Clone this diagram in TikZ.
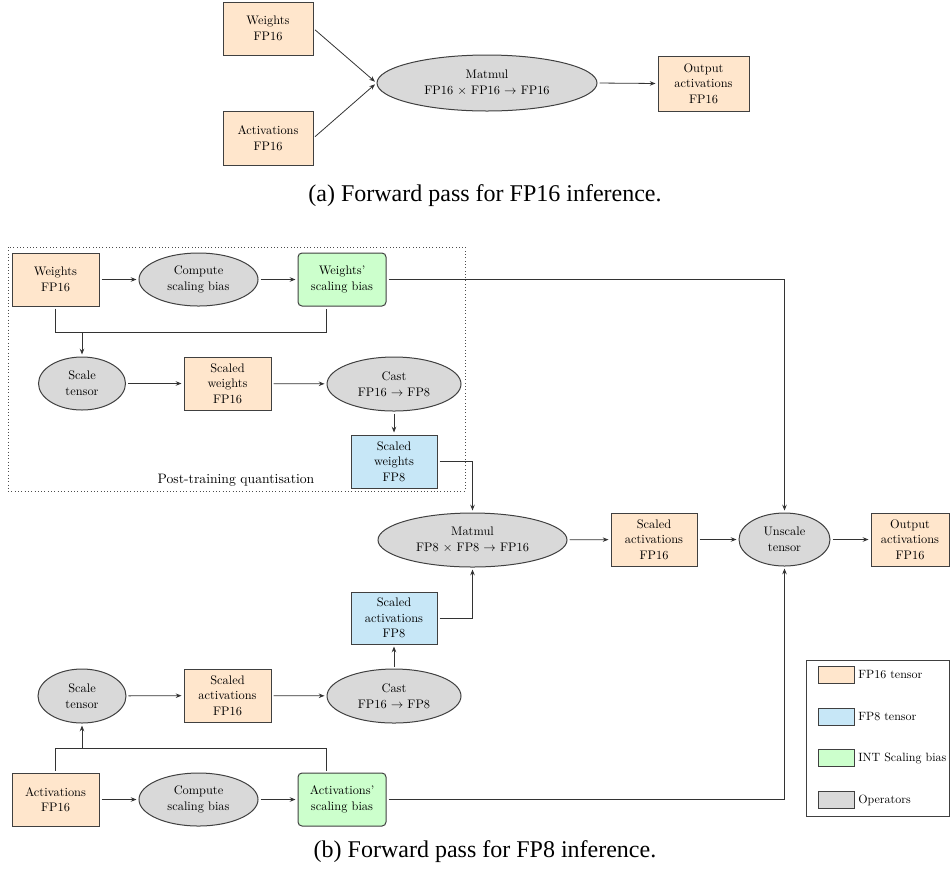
\documentclass[tikz,border=0pt]{standalone}
\usepackage{fontspec}
\newfontfamily\capfont{Liberation Serif}
\usetikzlibrary{shapes.geometric,arrows.meta,calc}
\definecolor{fporange}{HTML}{FFE6CC}
\definecolor{fpblue}{HTML}{C7E7F7}
\definecolor{fpgreen}{HTML}{CCFFCC}
\definecolor{opgray}{HTML}{D9D9D9}
\tikzset{
  nodefont/.style={font=\fontsize{9.9}{12.5}\selectfont},
  base/.style={nodefont, align=center, inner sep=0pt, draw=black!75, line width=0.8pt},
  sz/.style 2 args={minimum width=#1*0.8pt, minimum height=#2*0.8pt},
  obox/.style={base, rectangle, fill=fporange},
  bbox/.style={base, rectangle, fill=fpblue},
  gbox/.style={base, rectangle, rounded corners=3.2pt, fill=fpgreen},
  gyrect/.style={base, rectangle, fill=opgray},
  opell/.style={base, ellipse, fill=opgray},
  conn/.style={draw=black!80, line width=0.64pt, shorten <=1.6pt, shorten >=1.6pt},
  arr/.style={conn, -{Stealth[length=4.6pt,width=3.6pt]}},
  legtext/.style={font=\fontsize{9.6}{12}\selectfont, inner sep=0pt, anchor=west},
  capt/.style={font=\capfont\fontsize{19.2}{22}\selectfont, inner sep=0pt}
}
\begin{document}
\begin{tikzpicture}[x=0.8pt,y=-0.8pt]
\useasboundingbox (0,0) rectangle (950,869);

% ---------- (a) ----------
\node[obox, sz={90}{53}] (tW) at (268,28.5) {Weights\\FP16};
\node[obox, sz={90}{54}] (tA) at (268,138) {Activations\\FP16};
\node[opell, sz={220}{56}] (tM) at (487,83) {Matmul\\FP16 $\times$ FP16 $\rightarrow$ FP16};
\node[obox, sz={91}{55}] (tO) at (703.5,83.5) {Output\\activations\\FP16};
\draw[arr] (tW.east) -- (tM.west);
\draw[arr] (tA.east) -- (tM.west);
\draw[arr] (tM.east) -- (tO.west);
\node[capt] (capa) at (485,196) {(a) Forward pass for FP16 inference.};

% ---------- (b) ----------
\draw[draw=black!70, dotted, line width=0.64pt] (8,247) rectangle (465,491);
\node[font=\fontsize{10.95}{13}\selectfont, inner sep=0pt] (ptq) at (236,480) {Post-training quantisation};

\node[obox, sz={87}{53}] (bW) at (55.5,279.5) {Weights\\FP16};
\node[opell, sz={119}{53}] (bC1) at (198.5,279.5) {Compute\\scaling bias};
\node[gbox, sz={88}{53}] (bG1) at (342,279.5) {Weights'\\scaling bias};
\node[opell, sz={87}{53}] (bS1) at (82,383.5) {Scale\\tensor};
\node[obox, sz={87}{53}] (bSW16) at (227.5,383.5) {Scaled\\weights\\FP16};
\node[opell, sz={134}{54}] (bCast1) at (394,384) {Cast\\FP16 $\rightarrow$ FP8};
\node[bbox, sz={86}{53}] (bSW8) at (394,461.5) {Scaled\\weights\\FP8};

\node[opell, sz={189}{54}] (bMM) at (472.5,540) {Matmul\\FP8 $\times$ FP8 $\rightarrow$ FP16};
\node[obox, sz={86}{53}] (bSA16) at (654,539.5) {Scaled\\activations\\FP16};
\node[opell, sz={91}{53}] (bU) at (784.5,539.5) {Unscale\\tensor};
\node[obox, sz={78}{53}] (bO) at (910,539.5) {Output\\activations\\FP16};

\node[bbox, sz={86}{52}] (bSA8) at (394,618) {Scaled\\activations\\FP8};
\node[opell, sz={88}{54}] (bS2) at (82,696) {Scale\\tensor};
\node[obox, sz={87}{53}] (bSA16L) at (227.5,695.5) {Scaled\\activations\\FP16};
\node[opell, sz={134}{54}] (bCast2) at (394,696) {Cast\\FP16 $\rightarrow$ FP8};
\node[obox, sz={87}{53}] (bA) at (55.5,799.5) {Activations\\FP16};
\node[opell, sz={119}{53}] (bC2) at (198.5,799.5) {Compute\\scaling bias};
\node[gbox, sz={88}{53}] (bG2) at (342,799.5) {Activations'\\scaling bias};

% weights branch
\draw[arr] (bW) -- (bC1);
\draw[arr] (bC1) -- (bG1);
\coordinate (m1) at (82,332);
\coordinate (g1) at ([xshift=-12.8pt]bG1.south);
\draw[conn] (bW.south) |- (g1 |- m1) -- (g1);
\draw[arr, shorten <=0pt] (m1) -- (bS1.north);
\draw[arr] (bS1) -- (bSW16);
\draw[arr] (bSW16) -- (bCast1);
\draw[arr] (bCast1) -- (bSW8);
\draw[arr] (bSW8.east) -| (bMM.north);

% activations branch
\draw[arr] (bA) -- (bC2);
\draw[arr] (bC2) -- (bG2);
\coordinate (m2) at (82,748);
\coordinate (g2) at ([xshift=-12.8pt]bG2.north);
\draw[conn] (bA.north) |- (g2 |- m2) -- (g2);
\draw[arr, shorten <=0pt] (m2) -- (bS2.south);
\draw[arr] (bS2) -- (bSA16L);
\draw[arr] (bSA16L) -- (bCast2);
\draw[arr] (bCast2) -- (bSA8);
\draw[arr] (bSA8.east) -| (bMM.south);

% main row
\draw[arr] (bMM) -- (bSA16);
\draw[arr] (bSA16) -- (bU);
\draw[arr] (bU) -- (bO);
\draw[arr] (bG1.east) -| (bU.north);
\draw[arr] (bG2.east) -| (bU.south);

% legend
\node[draw=black!75, line width=0.8pt, fill=white, inner sep=0pt, sz={143}{156}] (leg) at (877.5,738) {};
\node[obox, sz={36}{17}] (l1) at (836,675) {};
\node[legtext] (l1t) at (858,675) {FP16 tensor};
\node[bbox, sz={36}{17}] (l2) at (836,716.5) {};
\node[legtext] (l2t) at (858,716.5) {FP8 tensor};
\node[gyrect, fill=fpgreen, sz={36}{17}] (l3) at (836,758) {};
\node[legtext] (l3t) at (858,758) {INT Scaling bias};
\node[gyrect, sz={36}{17}] (l4) at (836,800) {};
\node[legtext] (l4t) at (858,800) {Operators};

\node[capt] (capb) at (485,852) {(b) Forward pass for FP8 inference.};
\end{tikzpicture}
\end{document}
